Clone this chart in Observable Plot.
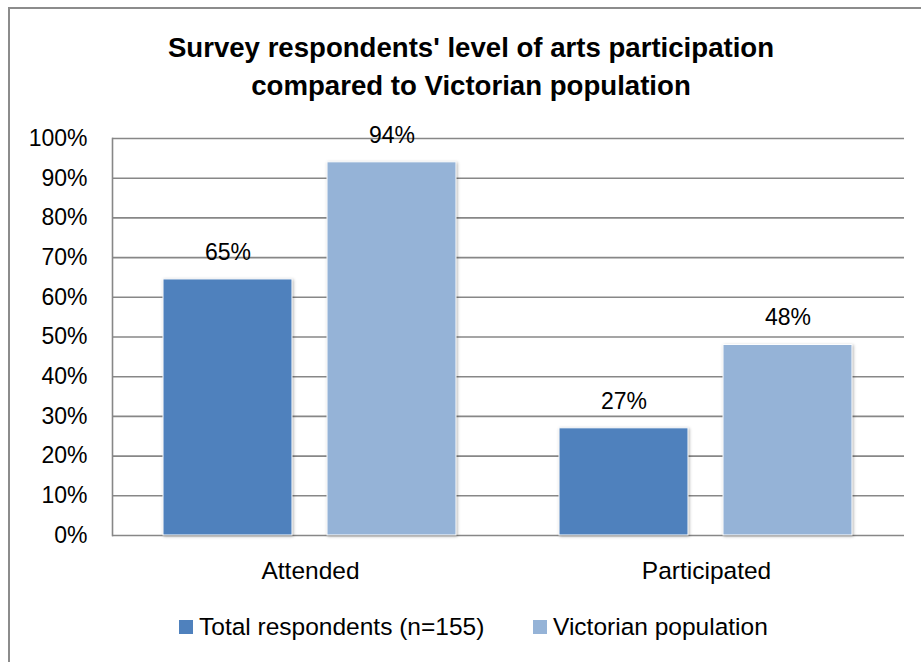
<!DOCTYPE html>
<html>
<head>
<meta charset="utf-8">
<script src="https://cdn.jsdelivr.net/npm/d3@7"></script>
<script src="https://cdn.jsdelivr.net/npm/@observablehq/plot@0.6"></script>
<style>
  html, body { margin: 0; padding: 0; background: #fff; }
  #wrap { position: relative; width: 921px; height: 662px; overflow: hidden; background: #fff; font-family: "Liberation Sans", Arial, sans-serif; color: #000; }
  #border { position: absolute; left: 8px; top: 7px; width: 1000px; height: 1000px; border: 2px solid #8c8c8c; box-sizing: border-box; }
  #title { position: absolute; left: 0; width: 942px; top: 29px; text-align: center; font-weight: bold; font-size: 27.6px; line-height: 38px; }
  #chart { position: absolute; left: 0; top: 0; }
  #legend { position: absolute; left: 0; top: 612px; width: 921px; height: 30px; }
  .item { position: absolute; top: 0; display: flex; align-items: center; font-size: 24.5px; line-height: 30px; white-space: nowrap; }
  .sw { width: 14px; height: 14px; margin-right: 6px; }
  #chart svg g[aria-label="bar"] rect { filter: drop-shadow(1px 1px 1.5px rgba(0,0,0,0.3)); }
</style>
</head>
<body>
<div id="wrap">
  <div id="border"></div>
  <div id="title">Survey respondents' level of arts participation<br>compared to Victorian population</div>
  <div id="chart"></div>
  <div id="legend"></div>
</div>
<script>
const categories = ["Attended", "Participated"];
const series = ["Total respondents (n=155)", "Victorian population"];
const totalValues = [64.5, 27];
const victorianValues = [94, 48];
const colors = ["#4F81BD", "#95B3D7"];
const yTicks = [0, 10, 20, 30, 40, 50, 60, 70, 80, 90, 100];

const data = categories.flatMap((c, i) => [
  {category: c, series: series[0], value: totalValues[i]},
  {category: c, series: series[1], value: victorianValues[i]}
]);

const chart = Plot.plot({
  width: 921,
  height: 662,
  marginLeft: 111,
  marginRight: 17,
  marginTop: 138,
  marginBottom: 127,
  style: {fontFamily: "Liberation Sans, Arial, sans-serif", fontSize: "23px", color: "#000", background: "transparent", overflow: "visible"},
  fx: {domain: categories, padding: 0},
  x: {domain: series, axis: null, paddingInner: 0.212, paddingOuter: 0.308},
  y: {domain: [0, 100], axis: null},
  color: {domain: series, range: colors},
  marks: [
    Plot.ruleY(yTicks, {y: d => d, stroke: "#878787", strokeWidth: 1.6}),
    Plot.frame({anchor: "left", facetAnchor: "left", stroke: "#878787", strokeWidth: 1.6}),
    Plot.axisY({ticks: yTicks, tickFormat: d => d + "%", tickSize: 0, tickPadding: 25, fill: "#000", label: null, fontSize: 23}),
    Plot.axisFx({anchor: "bottom", tickSize: 0, tickPadding: 26, label: null, fontSize: 24.5, fill: "#000"}),
    Plot.barY(data, {fx: "category", x: "series", y: "value", fill: "series", stroke: "#fff", strokeWidth: 1}),
    Plot.text(data, {fx: "category", x: "series", y: "value", text: d => Math.round(d.value) + "%", dy: -27, fontSize: 23, fill: "#000"})
  ]
});
document.getElementById("chart").appendChild(chart);

const legend = document.getElementById("legend");
const legendLeft = [179, 533];
series.forEach((s, i) => {
  const item = document.createElement("div");
  item.className = "item";
  item.style.left = legendLeft[i] + "px";
  const sw = document.createElement("span");
  sw.className = "sw";
  sw.style.background = colors[i];
  const tx = document.createElement("span");
  tx.textContent = s;
  item.appendChild(sw);
  item.appendChild(tx);
  legend.appendChild(item);
});
</script>
</body>
</html>
